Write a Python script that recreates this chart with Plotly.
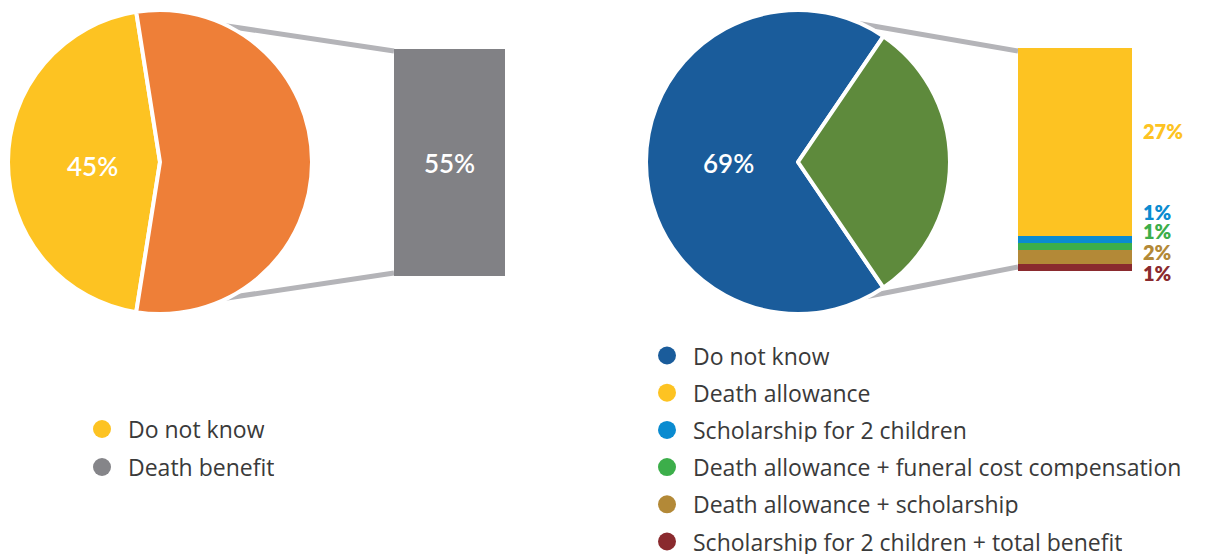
import plotly.graph_objects as go

W, H = 1211, 558

# ---- data -------------------------------------------------------------
left_labels = ["Do not know", "Death benefit"]
left_values = [45, 55]

right_labels = ["Do not know", "Benefit"]
right_values = [69, 31]

detail_labels = [
    "Death allowance",
    "Scholarship for 2 children",
    "Death allowance + funeral cost compensation",
    "Death allowance + scholarship",
    "Scholarship for 2 children + total benefit",
]
detail_values = [27, 1, 1, 2, 1]

right_legend_labels = ["Do not know"] + detail_labels

# ---- styling ----------------------------------------------------------
YELLOW = "#FDC322"
ORANGE = "#EE7F38"
GREY_BAR = "#818185"
GREY_DOT = "#858589"
BLUE_DARK = "#1A5C9B"
GREEN_DARK = "#5E8A3C"
CONNECTOR = "#B4B4B8"
detail_colors = ["#FDC322", "#0A8BD0", "#3CAE4A", "#B38937", "#8A2A2E"]
NUM_FONT = "Lato"
LEGEND_FONT = "Open Sans"
TEXT_COLOR = "#3a3a3a"


def fx(px):
    return px / W


def fy(py):
    return 1 - py / H


def start_angle(values):
    # plotly places the first slice clockwise from `rotation`;
    # centre it on 9 o'clock
    return -90 - values[0] / sum(values) * 360 / 2


fig = go.Figure()

# ---- pies -------------------------------------------------------------
fig.add_trace(go.Pie(
    values=left_values, labels=left_labels, sort=False,
    direction="clockwise", rotation=start_angle(left_values),
    marker=dict(colors=[YELLOW, ORANGE], line=dict(color="white", width=4)),
    textinfo="none", showlegend=False,
    domain=dict(x=[fx(8), fx(312)], y=[fy(314), fy(10)]),
))
fig.add_trace(go.Pie(
    values=right_values, labels=right_labels, sort=False,
    direction="clockwise", rotation=start_angle(right_values),
    marker=dict(colors=[BLUE_DARK, GREEN_DARK], line=dict(color="white", width=4)),
    textinfo="none", showlegend=False,
    domain=dict(x=[fx(646), fx(950)], y=[fy(314), fy(10)]),
))

# ---- left bar ---------------------------------------------------------
fig.add_trace(go.Bar(
    x=[0], y=[left_values[1]], width=1, marker=dict(color=GREY_BAR, line=dict(width=0)),
    text=[f"{left_values[1]}%"], textposition="inside", insidetextanchor="middle",
    textfont=dict(family=NUM_FONT, size=26, color="white", weight=600),
    constraintext="none", showlegend=False, hoverinfo="y",
    xaxis="x", yaxis="y",
))

# ---- right stacked bar (bottom segment first) ------------------------
for lab, val, col in reversed(list(zip(detail_labels, detail_values, detail_colors))):
    fig.add_trace(go.Bar(
        x=[0], y=[val], width=1, name=lab,
        marker=dict(color=col, line=dict(width=0)),
        showlegend=False, xaxis="x2", yaxis="y2",
    ))

# ---- overlay layer for legends ---------------------------------------
left_rows = [429, 467]
fig.add_trace(go.Scatter(
    x=[102] * len(left_labels), y=left_rows, mode="markers",
    marker=dict(size=18, color=[YELLOW, GREY_DOT]),
    showlegend=False, hoverinfo="skip", xaxis="x3", yaxis="y3",
))
right_legend_colors = [BLUE_DARK] + detail_colors
legend_rows = [355.5 + i * 37.2 for i in range(len(right_legend_labels))]
fig.add_trace(go.Scatter(
    x=[667] * len(right_legend_labels), y=legend_rows, mode="markers",
    marker=dict(size=18, color=right_legend_colors),
    showlegend=False, hoverinfo="skip", xaxis="x3", yaxis="y3",
))

annotations = []
for lab, yy in zip(left_labels, left_rows):
    annotations.append(dict(
        x=127, y=yy, xref="x3", yref="y3", text=lab, showarrow=False,
        xanchor="left", yanchor="middle", height=24, borderpad=0,
        font=dict(family=LEGEND_FONT, size=23, color=TEXT_COLOR),
    ))
for lab, yy in zip(right_legend_labels, legend_rows):
    annotations.append(dict(
        x=692, y=yy, xref="x3", yref="y3", text=lab, showarrow=False,
        xanchor="left", yanchor="middle", height=24, borderpad=0,
        font=dict(family=LEGEND_FONT, size=23, color=TEXT_COLOR),
    ))

# percentage labels on the pies
annotations.append(dict(
    x=fx(92), y=fy(166), xref="paper", yref="paper",
    xanchor="center", yanchor="middle",
    text=f"{left_values[0]}%", showarrow=False,
    font=dict(family=NUM_FONT, size=26, color="white", weight=600),
))
annotations.append(dict(
    x=fx(728), y=fy(163), xref="paper", yref="paper",
    xanchor="center", yanchor="middle",
    text=f"{right_values[0]}%", showarrow=False,
    font=dict(family=NUM_FONT, size=26, color="white", weight=600),
))

# labels beside the stacked bar
detail_label_rows = [131, 212, 231, 252, 273]
for val, col, yy in zip(detail_values, detail_colors, detail_label_rows):
    annotations.append(dict(
        x=fx(1142), y=fy(yy), xref="paper", yref="paper",
        text=f"{val}%", showarrow=False, xanchor="left", yanchor="middle",
        height=18, borderpad=0,
        font=dict(family=NUM_FONT, size=20, color=col, weight=800),
    ))

# connector lines from the pies to the bars
shapes = [
    dict(type="line", xref="paper", yref="paper", layer="below",
         x0=fx(160), y0=fy(16), x1=fx(394), y1=fy(51),
         line=dict(color=CONNECTOR, width=5)),
    dict(type="line", xref="paper", yref="paper", layer="below",
         x0=fx(160), y0=fy(308), x1=fx(394), y1=fy(273),
         line=dict(color=CONNECTOR, width=5)),
    dict(type="line", xref="paper", yref="paper", layer="below",
         x0=fx(798), y0=fy(13), x1=fx(1018), y1=fy(51),
         line=dict(color=CONNECTOR, width=5)),
    dict(type="line", xref="paper", yref="paper", layer="below",
         x0=fx(798), y0=fy(310), x1=fx(1018), y1=fy(267),
         line=dict(color=CONNECTOR, width=5)),
]

hidden = dict(visible=False, fixedrange=True)
fig.update_layout(
    width=W, height=H,
    margin=dict(l=0, r=0, t=0, b=0),
    paper_bgcolor="white", plot_bgcolor="rgba(0,0,0,0)",
    barmode="stack", bargap=0,
    showlegend=False,
    xaxis=dict(domain=[fx(394), fx(505)], range=[-0.5, 0.5], **hidden),
    yaxis=dict(domain=[fy(276), fy(49)], range=[0, left_values[1]], **hidden),
    xaxis2=dict(domain=[fx(1018), fx(1132)], range=[-0.5, 0.5], anchor="y2", **hidden),
    yaxis2=dict(domain=[fy(271), fy(48)], range=[0, sum(detail_values)], anchor="x2", **hidden),
    xaxis3=dict(domain=[0, 1], range=[0, W], anchor="y3", **hidden),
    yaxis3=dict(domain=[0, 1], range=[H, 0], anchor="x3", **hidden),
    annotations=annotations,
    shapes=shapes,
)

fig.write_html("out.html")
